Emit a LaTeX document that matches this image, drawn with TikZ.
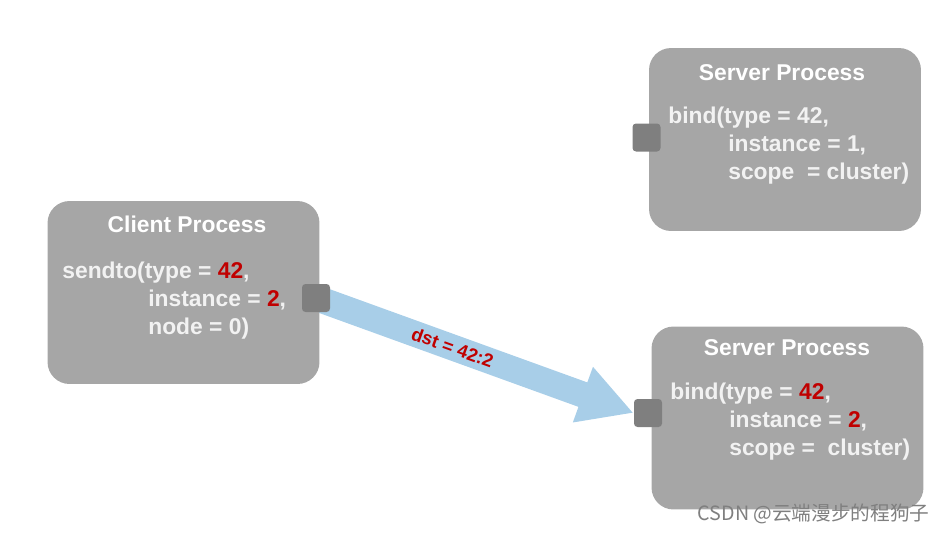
\documentclass[tikz,border=0pt]{standalone}
\usepackage{fontspec}
\setmainfont{Liberation Sans}
\newfontfamily\cjk{Noto Sans CJK SC}
\usetikzlibrary{positioning,arrows.meta,backgrounds}
\definecolor{boxgray}{RGB}{166,166,166}
\definecolor{portgray}{RGB}{127,127,127}
\definecolor{msgblue}{RGB}{168,206,232}
\definecolor{hlred}{RGB}{192,0,0}
\definecolor{txtwhite}{RGB}{242,242,242}
\newcommand{\hl}[1]{\textcolor{hlred}{#1}}

\begin{document}
\begin{tikzpicture}[x=0.02cm, y=-0.02cm,
    process/.style={fill=boxgray, rounded corners=0.44cm, minimum width=5.44cm, minimum height=3.66cm, inner sep=0pt},
    title/.style={text=white, font=\bfseries\fontsize{13}{16}\selectfont, anchor=base, inner sep=0pt},
    body/.style={text=txtwhite, font=\bfseries\fontsize{13}{15.9}\selectfont, align=left, anchor=base west, inner sep=0pt},
    port/.style={fill=portgray, rounded corners=2pt, minimum size=0.56cm, inner sep=0pt},
    msg/.style={draw=msgblue, line width=0.52cm, -{Triangle[length=1.08cm,width=1.1cm]}}
]
\useasboundingbox (0,0) rectangle (943,532);

\node[process] (client) at (183.5,292.5) {};
\node[process] (server1) at (785,139.5) {};
\node[process] (server2) at (787.5,418) {};

% body nodes are placed at the baseline of their last line
\node[title] (clienttitle) at (187,232) {Client Process};
\node[body] (clientbody) at (62,334) {sendto(type = \hl{42},\\
    \hspace*{1.72cm}instance = \hl{2},\\
    \hspace*{1.72cm}node = 0)};

\node[title] (server1title) at (782,80) {Server Process};
\node[body] (server1body) at (668,179) {bind(type = 42,\\
    \hspace*{1.2cm}instance = 1,\\
    \hspace*{1.2cm}scope \ = cluster)};

\node[title] (server2title) at (787,355) {Server Process};
\node[body] (server2body) at (670,455) {bind(type = \hl{42},\\
    \hspace*{1.18cm}instance = \hl{2},\\
    \hspace*{1.18cm}scope = \ cluster)};

\node[port] (cport) at (316,298) {};
\node[port] (sport1) at (646.5,137.5) {};
\node[port] (sport2) at (648,413) {};

% message arrow behind the ports
\begin{pgfonlayer}{background}
\draw[msg] (cport.center) -- node[sloped, pos=0.43, inner sep=0pt, text=hlred, font=\bfseries\fontsize{10.5}{12}\selectfont] (dst) {dst = 42:2} (sport2.west);
\end{pgfonlayer}

\node[anchor=base east, inner sep=0pt, text=portgray, font=\cjk\fontsize{11.2}{12}\selectfont] (mark) at (930,520) {CSDN @云端漫步的程狗子};
\end{tikzpicture}
\end{document}
